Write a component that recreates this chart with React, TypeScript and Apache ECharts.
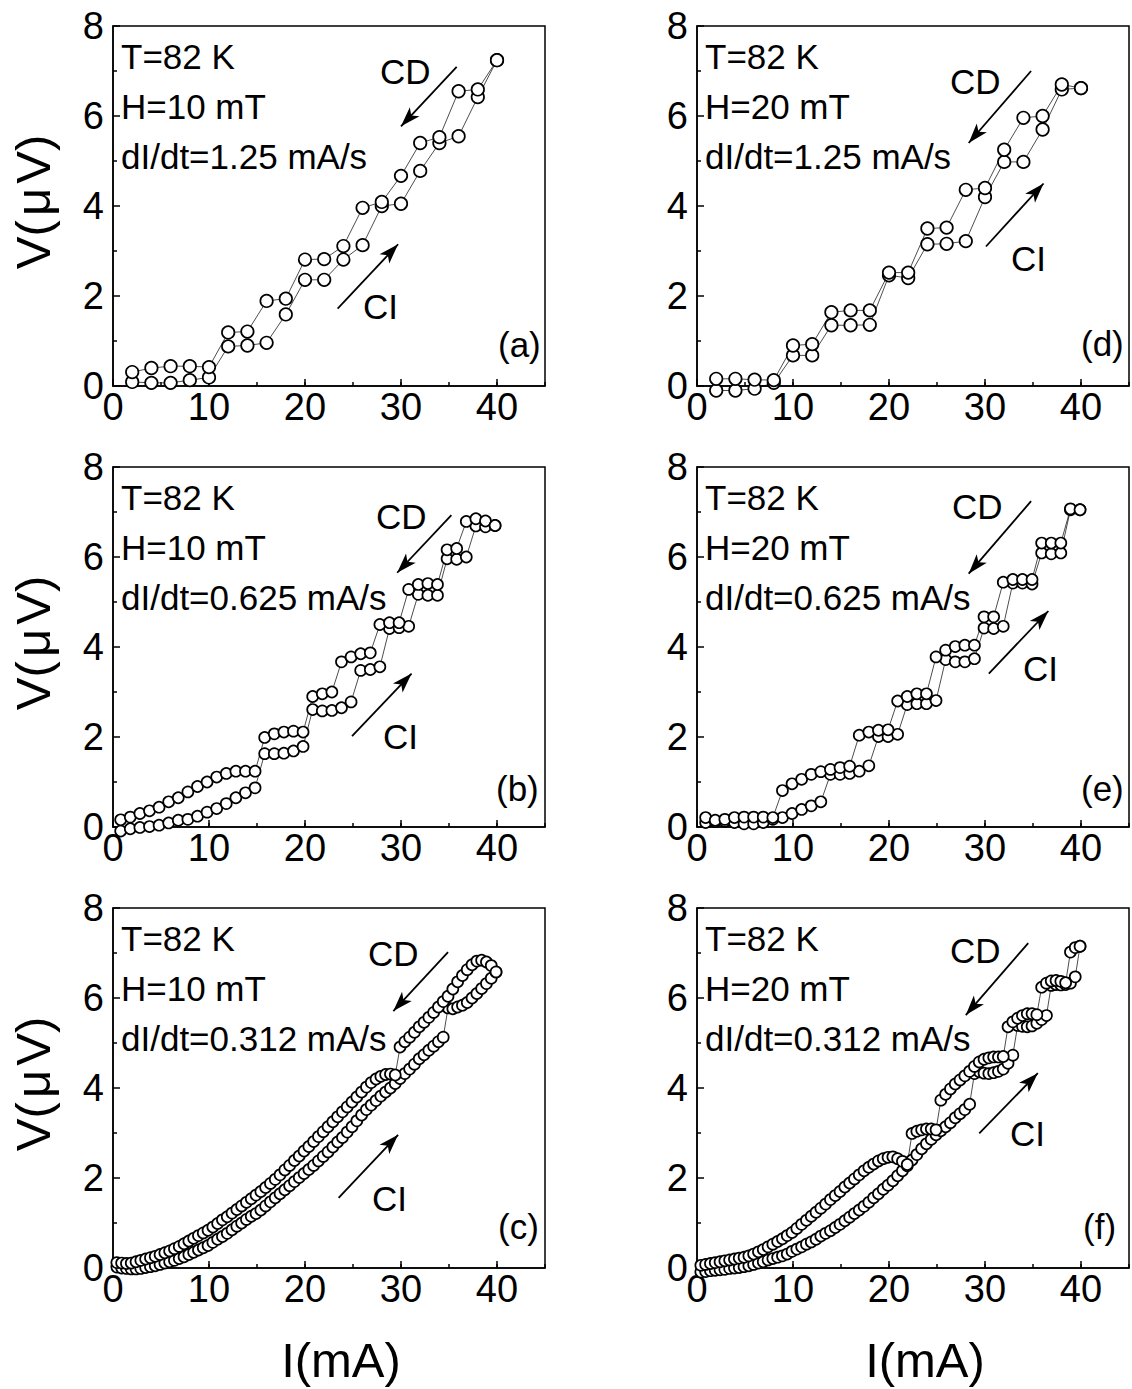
import React, { useEffect, useRef } from "react";
import * as echarts from "echarts";

// ---------- data ----------
const A_X = [2, 4, 6, 8, 10, 12, 14, 16, 18, 20, 22, 24, 26, 28, 30, 32, 34, 36, 38, 40];
const A_CI = [0.09, 0.07, 0.07, 0.13, 0.19, 0.88, 0.9, 0.96, 1.59, 2.36, 2.36, 2.81, 3.13, 4.0, 4.05, 4.78, 5.4, 5.55, 6.42, 7.24];
const A_CD = [0.31, 0.4, 0.44, 0.44, 0.42, 1.19, 1.21, 1.89, 1.94, 2.81, 2.82, 3.11, 3.96, 4.09, 4.67, 5.4, 5.53, 6.55, 6.59, 7.24];

const D_X = [2, 4, 6, 8, 10, 12, 14, 16, 18, 20, 22, 24, 26, 28, 30, 32, 34, 36, 38, 40];
const D_CI = [-0.1, -0.1, -0.06, 0.07, 0.68, 0.68, 1.35, 1.35, 1.36, 2.46, 2.4, 3.15, 3.16, 3.22, 4.2, 4.98, 4.98, 5.7, 6.59, 6.62];
const D_CD = [0.16, 0.16, 0.14, 0.13, 0.9, 0.93, 1.64, 1.68, 1.68, 2.52, 2.52, 3.5, 3.52, 4.36, 4.4, 5.25, 5.96, 6.0, 6.7, 6.62];

const B_X = [0.8, 1.8, 2.8, 3.8, 4.8, 5.8, 6.8, 7.8, 8.8, 9.8, 10.8, 11.8, 12.8, 13.8, 14.8, 15.8, 16.8, 17.8, 18.8, 19.8,
  20.8, 21.8, 22.8, 23.8, 24.8, 25.8, 26.8, 27.8, 28.8, 29.8, 30.8, 31.8, 32.8, 33.8, 34.8, 35.8, 36.8, 37.8, 38.8, 39.8];
const B_CI = [-0.09, -0.04, -0.01, 0.01, 0.04, 0.09, 0.15, 0.17, 0.24, 0.33, 0.41, 0.52, 0.65, 0.76, 0.87, 1.63, 1.63, 1.64, 1.69, 1.79,
  2.61, 2.58, 2.59, 2.65, 2.78, 3.48, 3.5, 3.56, 4.41, 4.43, 4.46, 5.17, 5.15, 5.15, 5.96, 5.95, 6.0, 6.69, 6.67, 6.7];
const B_CD = [0.16, 0.22, 0.3, 0.36, 0.44, 0.56, 0.65, 0.78, 0.9, 1.0, 1.11, 1.19, 1.24, 1.24, 1.24, 1.99, 2.07, 2.11, 2.13, 2.11,
  2.9, 2.96, 3.0, 3.67, 3.78, 3.85, 3.87, 4.5, 4.54, 4.54, 5.28, 5.39, 5.41, 5.39, 6.16, 6.19, 6.79, 6.85, 6.8, 6.7];

const E_X = [0.9, 1.9, 2.9, 3.9, 4.9, 5.9, 6.9, 7.9, 8.9, 9.9, 10.9, 11.9, 12.9, 13.9, 14.9, 15.9, 16.9, 17.9, 18.9, 19.9,
  20.9, 21.9, 22.9, 23.9, 24.9, 25.9, 26.9, 27.9, 28.9, 29.9, 30.9, 31.9, 32.9, 33.9, 34.9, 35.9, 36.9, 37.9, 38.9, 39.9];
const E_CI = [0.1, 0.12, 0.13, 0.1, 0.07, 0.07, 0.1, 0.17, 0.21, 0.3, 0.39, 0.47, 0.56, 1.17, 1.17, 1.19, 1.24, 1.36, 2.01, 2.01,
  2.06, 2.72, 2.74, 2.74, 2.81, 3.72, 3.67, 3.67, 3.74, 4.42, 4.41, 4.46, 5.42, 5.42, 5.4, 6.09, 6.07, 6.09, 7.05, 7.05];
const E_CD = [0.21, 0.15, 0.17, 0.21, 0.22, 0.22, 0.22, 0.21, 0.81, 0.96, 1.06, 1.17, 1.23, 1.28, 1.32, 1.35, 2.04, 2.11, 2.15, 2.16,
  2.8, 2.9, 2.96, 2.96, 3.78, 3.93, 4.01, 4.04, 4.04, 4.67, 4.67, 5.44, 5.5, 5.5, 5.5, 6.31, 6.31, 6.31, 7.07, 7.05];

const C_X = [0.4, 0.9, 1.4, 1.9, 2.4, 2.9, 3.4, 3.9, 4.4, 4.9, 5.4, 5.9, 6.4, 6.9, 7.4, 7.9, 8.4, 8.9, 9.4, 9.9,
  10.4, 10.9, 11.4, 11.9, 12.4, 12.9, 13.4, 13.9, 14.4, 14.9, 15.4, 15.9, 16.4, 16.9, 17.4, 17.9, 18.4, 18.9, 19.4, 19.9,
  20.4, 20.9, 21.4, 21.9, 22.4, 22.9, 23.4, 23.9, 24.4, 24.9, 25.4, 25.9, 26.4, 26.9, 27.4, 27.9, 28.4, 28.9, 29.4, 29.9,
  30.4, 30.9, 31.4, 31.9, 32.4, 32.9, 33.4, 33.9, 34.4, 34.9, 35.4, 35.9, 36.4, 36.9, 37.4, 37.9, 38.4, 38.9, 39.4, 39.9];
const C_CI = [0.02, 0.0, -0.01, -0.02, -0.02, -0.01, 0.01, 0.03, 0.05, 0.08,
  0.11, 0.14, 0.17, 0.21, 0.25, 0.3, 0.35, 0.4, 0.45, 0.5,
  0.57, 0.64, 0.7, 0.77, 0.85, 0.93, 1.0, 1.08, 1.15, 1.21,
  1.29, 1.38, 1.47, 1.56, 1.65, 1.74, 1.83, 1.92, 2.01, 2.1,
  2.19, 2.28, 2.38, 2.48, 2.58, 2.69, 2.8, 2.9, 3.02, 3.14,
  3.27, 3.4, 3.52, 3.62, 3.72, 3.82, 3.91, 4.0, 4.1, 4.21,
  4.32, 4.42, 4.53, 4.65, 4.74, 4.84, 4.93, 5.03, 5.13, 5.78,
  5.76, 5.8, 5.84, 5.9, 6.0, 6.1, 6.21, 6.32, 6.44, 6.58];
const C_CD = [0.12, 0.11, 0.1, 0.11, 0.14, 0.17, 0.2, 0.23, 0.26, 0.3,
  0.34, 0.38, 0.43, 0.48, 0.54, 0.6, 0.66, 0.72, 0.78, 0.84,
  0.91, 0.99, 1.07, 1.14, 1.22, 1.3, 1.38, 1.46, 1.54, 1.62,
  1.7, 1.79, 1.88, 1.97, 2.07, 2.18, 2.28, 2.39, 2.49, 2.6,
  2.7, 2.81, 2.92, 3.03, 3.14, 3.25, 3.36, 3.47, 3.58, 3.69,
  3.8, 3.91, 4.02, 4.12, 4.2, 4.26, 4.3, 4.31, 4.29, 4.91,
  5.03, 5.13, 5.24, 5.36, 5.46, 5.57, 5.68, 5.8, 5.92, 6.04,
  6.2, 6.36, 6.5, 6.63, 6.74, 6.82, 6.84, 6.8, 6.72, 6.58];

const F_X = C_X;
const F_CI = [-0.09, -0.08, -0.06, -0.05, -0.04, -0.03, -0.01, 0.0, 0.01, 0.03,
  0.05, 0.08, 0.11, 0.14, 0.18, 0.21, 0.24, 0.27, 0.31, 0.37,
  0.42, 0.47, 0.53, 0.58, 0.64, 0.71, 0.77, 0.83, 0.9, 0.97,
  1.05, 1.13, 1.21, 1.29, 1.37, 1.46, 1.56, 1.65, 1.75, 1.84,
  1.94, 2.05, 2.16, 2.27, 2.4, 2.52, 2.65, 2.76, 2.86, 2.96,
  3.05, 3.14, 3.23, 3.34, 3.43, 3.52, 3.64, 4.32, 4.36, 4.33,
  4.32, 4.34, 4.37, 4.42, 4.55, 4.73, 5.39, 5.37, 5.36, 5.38,
  5.44, 5.52, 5.61, 6.28, 6.3, 6.29, 6.3, 6.33, 6.47, 7.15];
const F_CD = [0.06, 0.08, 0.1, 0.12, 0.14, 0.16, 0.18, 0.2, 0.22, 0.24,
  0.27, 0.31, 0.36, 0.41, 0.47, 0.53, 0.59, 0.65, 0.72, 0.79,
  0.88, 0.97, 1.06, 1.15, 1.24, 1.33, 1.42, 1.52, 1.61, 1.7,
  1.8, 1.89, 1.98, 2.07, 2.16, 2.24, 2.31, 2.38, 2.43, 2.46,
  2.47, 2.43, 2.37, 2.3, 2.99, 3.04, 3.07, 3.09, 3.09, 3.07,
  3.73, 3.86, 3.98, 4.09, 4.18, 4.27, 4.37, 4.48, 4.58, 4.64,
  4.67, 4.69, 4.69, 4.7, 5.36, 5.47, 5.55, 5.61, 5.65, 5.65,
  5.63, 6.24, 6.33, 6.38, 6.39, 6.37, 6.34, 7.02, 7.12, 7.15];

const X_TICKS = [0, 10, 20, 30, 40];
const Y_TICKS = [0, 2, 4, 6, 8];
const T_LABEL = "T=82 K";
const H_LABELS = ["H=10 mT", "H=20 mT"];
const RATE_LABELS = ["dI/dt=1.25 mA/s", "dI/dt=0.625 mA/s", "dI/dt=0.312 mA/s"];

// ---------- layout ----------
const FONT = '"Liberation Sans", Arial, Helvetica, sans-serif';
const COL_LEFT = [113, 697];
const ROW_TOP = [26, 467, 908];
const GW = 432;
const GH = 360;

type Panel = {
  tag: string; col: number; row: number;
  xs: number[]; ci: number[]; cd: number[];
  sym: number;
  cdArrow: number[][]; ciArrow: number[][];
  cdText: number[]; ciText: number[]; tagText: number[];
};

const panels: Panel[] = [
  { tag: "(a)", col: 0, row: 0, xs: A_X, ci: A_CI, cd: A_CD, sym: 12.5,
    cdArrow: [[35.8, 7.09], [30.0, 5.77]], ciArrow: [[23.4, 1.72], [29.7, 3.15]],
    cdText: [267, 57], ciText: [250, 292], tagText: [385, 330] },
  { tag: "(b)", col: 0, row: 1, xs: B_X, ci: B_CI, cd: B_CD, sym: 11,
    cdArrow: [[35.25, 6.93], [29.6, 5.65]], ciArrow: [[24.9, 2.02], [31.1, 3.41]],
    cdText: [263, 61], ciText: [270, 281], tagText: [383, 333] },
  { tag: "(c)", col: 0, row: 2, xs: C_X, ci: C_CI, cd: C_CD, sym: 11,
    cdArrow: [[34.9, 7.02], [29.2, 5.71]], ciArrow: [[23.5, 1.56], [29.7, 2.96]],
    cdText: [255, 57], ciText: [259, 302], tagText: [385, 330] },
  { tag: "(d)", col: 1, row: 0, xs: D_X, ci: D_CI, cd: D_CD, sym: 12.5,
    cdArrow: [[34.8, 7.0], [28.3, 5.4]], ciArrow: [[30.1, 3.1], [36.1, 4.5]],
    cdText: [253, 67], ciText: [314, 244], tagText: [384, 329] },
  { tag: "(e)", col: 1, row: 1, xs: E_X, ci: E_CI, cd: E_CD, sym: 11,
    cdArrow: [[34.8, 7.24], [28.3, 5.63]], ciArrow: [[30.4, 3.41], [36.6, 4.8]],
    cdText: [255, 51], ciText: [326, 213], tagText: [384, 333] },
  { tag: "(f)", col: 1, row: 2, xs: F_X, ci: F_CI, cd: F_CD, sym: 11,
    cdArrow: [[34.5, 7.22], [28.0, 5.62]], ciArrow: [[29.4, 2.99], [35.5, 4.33]],
    cdText: [253, 54], ciText: [313, 237], tagText: [386, 330] },
];

function zip(xs: number[], ys: number[]) {
  return xs.map((x, i) => [x, ys[i]]);
}

function txt(text: string, x: number, y: number, size: number, extra: any = {}) {
  return {
    type: "text",
    x, y,
    silent: true,
    ...extra,
    style: {
      text,
      fill: "#000",
      font: `${size}px ${FONT}`,
      textAlign: extra.align || "left",
      textVerticalAlign: "middle",
      align: extra.align || "left",
      verticalAlign: "middle",
    },
  };
}

function buildOption() {
  const grid: any[] = [];
  const xAxis: any[] = [];
  const yAxis: any[] = [];
  const series: any[] = [];
  const graphic: any[] = [];
  const black = { color: "#000", width: 1.5 };

  panels.forEach((p, i) => {
    const left = COL_LEFT[p.col];
    const top = ROW_TOP[p.row];
    grid.push({ left, top, width: GW, height: GH, show: true, borderColor: "#000", borderWidth: 1.5, backgroundColor: "transparent", containLabel: false });
    xAxis.push({
      gridIndex: i, type: "value", position: "bottom", min: 0, max: 45, interval: 10,
      axisLine: { show: true, onZero: false, lineStyle: black },
      axisTick: { show: true, inside: true, length: 7, lineStyle: black },
      axisLabel: { show: true, color: "#000", fontSize: 38, fontFamily: FONT, margin: 2, showMaxLabel: false,
        formatter: (v: number) => (X_TICKS.indexOf(v) >= 0 ? String(v) : "") },
      splitLine: { show: false },
    });
    xAxis.push({
      gridIndex: i, type: "value", position: "bottom", min: 0, max: 45, interval: 5,
      axisLine: { show: false },
      axisTick: { show: true, inside: true, length: 4, lineStyle: black },
      axisLabel: { show: false },
      splitLine: { show: false },
    });
    yAxis.push({
      gridIndex: i, type: "value", min: 0, max: 8, interval: 2,
      axisLine: { show: true, onZero: false, lineStyle: black },
      axisTick: { show: true, inside: true, length: 7, lineStyle: black },
      minorTick: { show: true, splitNumber: 2, length: 4, lineStyle: black },
      axisLabel: { show: true, color: "#000", fontSize: 38, fontFamily: FONT, margin: 9,
        formatter: (v: number) => (Y_TICKS.indexOf(v) >= 0 ? String(v) : "") },
      splitLine: { show: false },
      minorSplitLine: { show: false },
    });

    const common = {
      type: "line",
      xAxisIndex: 2 * i,
      yAxisIndex: i,
      symbol: "circle",
      symbolSize: p.sym,
      showSymbol: true,
      showAllSymbol: true,
      clip: false,
      silent: true,
      itemStyle: { color: "#fff", borderColor: "#000", borderWidth: 1.7 },
      lineStyle: { color: "#000", width: 0.7 },
      emphasis: { disabled: true },
    };
    series.push({
      ...common,
      name: `CI ${p.tag}`,
      data: zip(p.xs, p.ci),
      markLine: {
        silent: true,
        symbol: ["none", "arrow"],
        symbolSize: [10, 20],
        label: { show: false },
        emphasis: { disabled: true },
        lineStyle: { color: "#000", width: 1.8, type: "solid" },
        data: [
          [{ coord: p.cdArrow[0] }, { coord: p.cdArrow[1] }],
          [{ coord: p.ciArrow[0] }, { coord: p.ciArrow[1] }],
        ],
      },
    });
    series.push({ ...common, name: `CD ${p.tag}`, data: zip(p.xs, p.cd) });

    const tx = left + 8;
    graphic.push(txt(T_LABEL, tx, top + 42 - 12, 35));
    graphic.push(txt(H_LABELS[p.col], tx, top + 92 - 12, 35));
    graphic.push(txt(RATE_LABELS[p.row], tx, top + 142 - 12, 35));
    graphic.push(txt("CD", left + p.cdText[0], top + p.cdText[1] - 12, 35));
    graphic.push(txt("CI", left + p.ciText[0], top + p.ciText[1] - 12, 35));
    graphic.push(txt(p.tag, left + p.tagText[0], top + p.tagText[1] - 12, 35));
  });

  ROW_TOP.forEach((t) => {
    graphic.push(txt("V(\u200a\u03bc\u200aV)", 33, t + GH / 2 - 4, 49, { align: "center", rotation: Math.PI / 2 }));
  });
  COL_LEFT.forEach((l) => {
    graphic.push(txt("I(mA)", l + GW / 2 + 12, 1360, 49, { align: "center" }));
  });

  return {
    animation: false,
    backgroundColor: "#fff",
    grid,
    xAxis,
    yAxis,
    series,
    graphic,
  };
}

export default function App() {
  const ref = useRef<HTMLDivElement>(null);
  useEffect(() => {
    if (!ref.current) return;
    const chart = echarts.init(ref.current, null, { renderer: "svg", width: 1132, height: 1389 });
    chart.setOption(buildOption() as any);
    return () => chart.dispose();
  }, []);
  return (
    <div
      ref={ref}
      style={{ position: "absolute", left: 0, top: 0, width: 1132, height: 1389, background: "#fff" }}
    />
  );
}
